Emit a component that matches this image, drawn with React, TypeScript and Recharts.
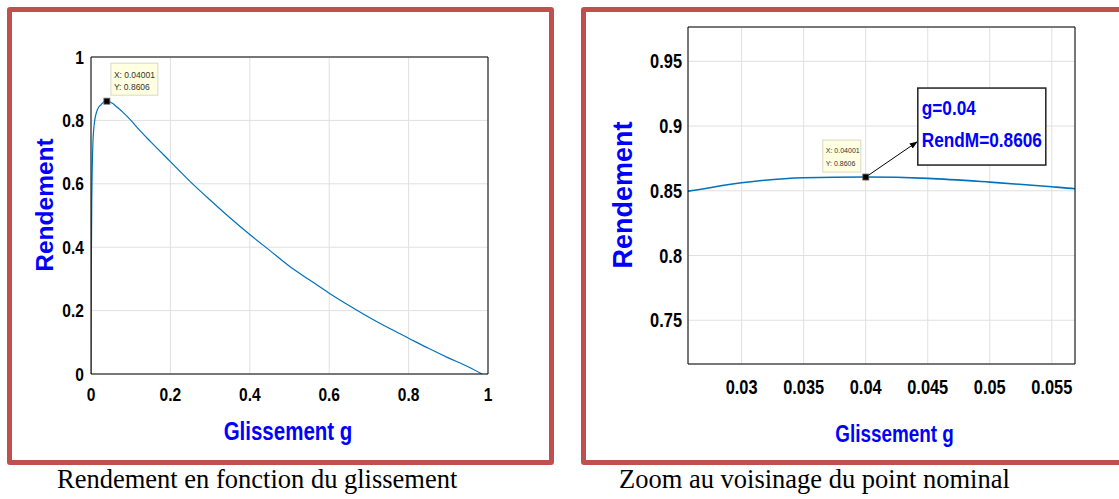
import { LineChart, Line, XAxis, YAxis, CartesianGrid, ReferenceDot, Label } from 'recharts'

// slip g and efficiency
const slip = [0, 0.001, 0.002, 0.003, 0.005, 0.0075, 0.01, 0.015, 0.02, 0.0257, 0.03, 0.035, 0.04, 0.045, 0.05, 0.055, 0.0569, 0.06, 0.08, 0.1, 0.1234, 0.15, 0.2, 0.25, 0.3, 0.35, 0.4, 0.45, 0.5, 0.55, 0.6, 0.65, 0.7, 0.75, 0.8, 0.85, 0.9, 0.95, 0.985]
const rendement = [0, 0.38, 0.55, 0.64, 0.735, 0.78, 0.805, 0.83, 0.843, 0.8497, 0.8562, 0.8601, 0.8606, 0.8596, 0.8567, 0.8531, 0.8515, 0.848, 0.826, 0.801, 0.7676, 0.733, 0.67, 0.607, 0.549, 0.493, 0.44, 0.39, 0.34, 0.297, 0.255, 0.216, 0.179, 0.145, 0.113, 0.081, 0.051, 0.023, 0]

const fullTicks = [0, 0.2, 0.4, 0.6, 0.8, 1]
const zoomXTicks = [0.03, 0.035, 0.04, 0.045, 0.05, 0.055]
const zoomYTicks = [0.75, 0.8, 0.85, 0.9, 0.95]
const zoomXDomain = [0.02568, 0.05687]
const zoomYDomain = [0.7162, 0.9765]

const tipX = 0.04001
const tipY = 0.8606
const nominalG = '0.04'

const data = slip.map((g, i) => ({ g, r: rendement[i] }))

const sans = "'Liberation Sans', Arial, sans-serif"
const blue = '#0000ff'
const squeeze = 0.82

// bold text squeezed horizontally, stands in for Helvetica Narrow
function Narrow(p: { x: number; y: number; size: number; anchor?: string; fill?: string; children: any }) {
  return (
    <text transform={`translate(${p.x} ${p.y}) scale(${squeeze} 1)`} textAnchor={p.anchor || 'start'}
      fill={p.fill || '#000'} style={{ fontFamily: sans, fontWeight: 700, fontSize: p.size }}>
      {p.children}
    </text>
  )
}

const XTick = (size: number) => (p: any) => (
  <Narrow x={p.x} y={p.y + 0.71 * size} size={size} anchor="middle">{p.payload.value}</Narrow>
)
const YTick = (size: number) => (p: any) => (
  <Narrow x={p.x} y={p.y + 0.35 * size} size={size} anchor="end">{p.payload.value}</Narrow>
)

const XTitle = (dx: number, dy: number, size: number) => (props: any) => {
  const vb = props.viewBox
  return <Narrow x={vb.x + vb.width / 2 + dx} y={vb.y + dy} size={size} anchor="middle" fill={blue}>Glissement g</Narrow>
}

const YTitle = (dx: number, dy: number, size: number) => (props: any) => {
  const vb = props.viewBox
  const x = vb.x + dx
  const y = vb.y + vb.height / 2 + dy
  return (
    <text x={x} y={y} transform={`rotate(-90 ${x} ${y})`} textAnchor="middle" fill={blue}
      style={{ fontFamily: sans, fontWeight: 700, fontSize: size }}>
      Rendement
    </text>
  )
}

const LeftTip = (p: any) => (
  <g>
    <rect x={p.cx + 4} y={p.cy - 38} width={47} height={32} fill="#ffffe1" stroke="#d8d8c8" />
    <text x={p.cx + 7} y={p.cy - 23} fill="#333" style={{ fontFamily: sans, fontSize: 8.5 }}>X: {tipX}</text>
    <text x={p.cx + 7} y={p.cy - 11} fill="#333" style={{ fontFamily: sans, fontSize: 8.5 }}>Y: {tipY}</text>
    <rect x={p.cx - 3} y={p.cy - 3} width={6} height={6} fill="#000" stroke="#666" strokeWidth={0.8} />
  </g>
)

const RightTip = (p: any) => (
  <g>
    <defs>
      <marker id="arrowHead" markerWidth="8" markerHeight="8" refX="7" refY="4" orient="auto">
        <path d="M0,1 L8,4 L0,7 Z" fill="#000" />
      </marker>
    </defs>
    <rect x={p.cx - 43} y={p.cy - 37} width={38} height={32} fill="#ffffe1" stroke="#d8d8c8" />
    <text x={p.cx - 40} y={p.cy - 24} fill="#333" style={{ fontFamily: sans, fontSize: 7 }}>X: {tipX}</text>
    <text x={p.cx - 40} y={p.cy - 11} fill="#333" style={{ fontFamily: sans, fontSize: 7 }}>Y: {tipY}</text>
    <line x1={p.cx} y1={p.cy} x2={p.cx + 51} y2={p.cy - 35} stroke="#000" strokeWidth={1} markerEnd="url(#arrowHead)" />
    <rect x={p.cx + 52} y={p.cy - 89} width={128} height={77} fill="#fff" stroke="#222" strokeWidth={1.5} />
    <Narrow x={p.cx + 56} y={p.cy - 62} size={21} fill={blue}>g={nominalG}</Narrow>
    <Narrow x={p.cx + 56} y={p.cy - 30} size={21} fill={blue}>RendM={tipY}</Narrow>
    <rect x={p.cx - 3} y={p.cy - 3} width={6} height={6} fill="#000" stroke="#666" strokeWidth={0.8} />
  </g>
)

const frame = (left: number) => ({
  position: 'absolute' as const, left, top: 7, width: 547, height: 458,
  border: '5px solid #c0504d', borderRadius: 3, boxSizing: 'border-box' as const,
})

const caption = (left: number) => ({
  position: 'absolute' as const, left, top: 464, fontFamily: "'Liberation Serif', 'Times New Roman', serif",
  fontSize: 26.5, color: '#000', whiteSpace: 'nowrap' as const,
})

function Panel(props: {
  xDomain: number[]; yDomain: number[]; xTicks: number[]; yTicks: number[]
  margin: any; yWidth: number; fs: number; xMargin: number; yMargin: number
  xTitle: any; yTitle: any; tip: any; lineWidth: number; zoom?: boolean
}) {
  return (
    <LineChart width={props.zoom ? 539 : 560} height={470} data={data} margin={props.margin}>
      <CartesianGrid stroke="#e0e0e0" />
      <XAxis dataKey="g" type="number" domain={props.xDomain} ticks={props.xTicks} allowDataOverflow
        height={70} tickSize={0} tickMargin={props.xMargin} tickLine={false}
        axisLine={{ stroke: '#000' }} tick={XTick(props.fs)} interval={0}>
        <Label content={props.xTitle} />
      </XAxis>
      <YAxis type="number" domain={props.yDomain} ticks={props.yTicks} allowDataOverflow
        width={props.yWidth} tickSize={0} tickMargin={props.yMargin} tickLine={false}
        axisLine={{ stroke: '#000' }} tick={YTick(props.fs)} interval={0}>
        <Label content={props.yTitle} />
      </YAxis>
      {/* inward tick marks and box, like the original plot */}
      <XAxis xAxisId="bt" type="number" domain={props.xDomain} ticks={props.xTicks} allowDataOverflow
        mirror orientation="bottom" tick={false} tickSize={5} axisLine={false} tickLine={{ stroke: '#000' }} />
      <XAxis xAxisId="tp" type="number" domain={props.xDomain} ticks={props.xTicks} allowDataOverflow
        mirror orientation="top" tick={false} tickSize={5} axisLine={{ stroke: '#000' }} tickLine={{ stroke: '#000' }} />
      <YAxis yAxisId="lf" type="number" domain={props.yDomain} ticks={props.yTicks} allowDataOverflow
        mirror orientation="left" tick={false} tickSize={5} axisLine={false} tickLine={{ stroke: '#000' }} />
      <YAxis yAxisId="rt" type="number" domain={props.yDomain} ticks={props.yTicks} allowDataOverflow
        mirror orientation="right" tick={false} tickSize={5} axisLine={{ stroke: '#000' }} tickLine={{ stroke: '#000' }} />
      <Line type="monotone" dataKey="r" stroke="#0072bd" strokeWidth={props.lineWidth} dot={false}
        isAnimationActive={false} />
      <ReferenceDot x={tipX} y={tipY} r={3} shape={props.tip} />
    </LineChart>
  )
}

export default function App() {
  return (
    <div style={{ position: 'absolute', left: 0, top: 0, width: 1119, height: 499, overflow: 'hidden', background: '#fff' }}>
      <div style={frame(7)} />
      <div style={{ ...frame(581), width: 600 }} />
      <div style={{ position: 'absolute', left: 0, top: 0 }}>
        <Panel xDomain={[0, 1]} yDomain={[0, 1]} xTicks={fullTicks} yTicks={fullTicks}
          margin={{ top: 57, right: 72, bottom: 26, left: 41 }} yWidth={50} fs={19} xMargin={14} yMargin={7}
          xTitle={XTitle(-1.5, 66, 25)} yTitle={YTitle(12, -10.5, 24.5)} tip={LeftTip} lineWidth={1.2} />
      </div>
      <div style={{ position: 'absolute', left: 580, top: 0 }}>
        <Panel zoom xDomain={zoomXDomain} yDomain={zoomYDomain} xTicks={zoomXTicks} yTicks={zoomYTicks}
          margin={{ top: 27, right: 44, bottom: 36, left: 48 }} yWidth={60} fs={20} xMargin={16} yMargin={6}
          xTitle={XTitle(13, 78, 23)} yTitle={YTitle(3.5, -0.5, 27)} tip={RightTip} lineWidth={1.6} />
      </div>
      <div style={caption(57)}>Rendement en fonction du glissement</div>
      <div style={caption(619)}>Zoom au voisinage du point nominal</div>
    </div>
  )
}
